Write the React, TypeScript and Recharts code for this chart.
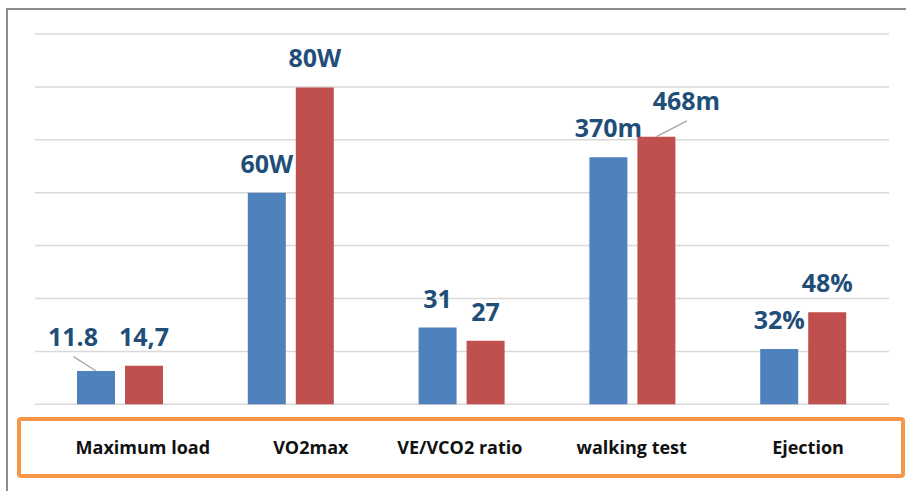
import React from 'react';
import { BarChart, Bar, XAxis, YAxis, CartesianGrid, LabelList } from 'recharts';

const categories = ['Maximum load', 'VO2max', 'VE/VCO2 ratio', 'walking test', 'Ejection'];
const beforeValues = [6.3, 40.0, 14.5, 46.7, 10.45];
const afterValues = [7.3, 59.9, 12.0, 50.6, 17.4];
const beforeLabels = ['11.8', '60W', '31', '370m', '32%'];
const afterLabels = ['14,7', '80W', '27', '468m', '48%'];
const yTicks = [0, 10, 20, 30, 40, 50, 60, 70];

const data = categories.map((c, i) => ({
  category: c,
  before: beforeValues[i],
  after: afterValues[i],
  beforeLabel: beforeLabels[i],
  afterLabel: afterLabels[i],
}));

// label callouts displaced from their bars (with leader lines)
const calloutOffsets: Record<string, { dx: number; dy: number }> = {
  '11.8': { dx: -23, dy: -25.3 },
  '468m': { dx: 30, dy: -26.7 },
};
// horizontal shift of category names relative to their band centers
const tickOffsets = [22.4, 19.6, -2.2, -1.1, 4.4];

const FONT = '"Open Sans", "DejaVu Sans", sans-serif';
const LABEL_COLOR = '#1f4e79';

const ValueLabel = (props: any) => {
  const { x, y, width, value } = props;
  const cx = Number(x) + Number(width) / 2;
  const top = Number(y);
  const off = calloutOffsets[String(value)];
  const textProps = {
    textAnchor: 'middle' as const,
    fontFamily: FONT,
    fontWeight: 700,
    fontSize: 25,
    fill: LABEL_COLOR,
  };
  if (off) {
    const lx = cx + off.dx;
    const ly = top + off.dy;
    return (
      <g>
        <line x1={cx} y1={top} x2={lx + 0.5} y2={ly + 11} stroke="#a6a6a6" strokeWidth={1.3} />
        <text x={lx} y={ly} {...textProps}>{value}</text>
      </g>
    );
  }
  return (
    <text x={cx} y={top - 20} {...textProps}>{value}</text>
  );
};

const CategoryTick = (props: any) => {
  const { x, y, payload } = props;
  const idx = payload?.index ?? categories.indexOf(payload?.value);
  const dx = tickOffsets[idx] ?? 0;
  return (
    <text
      x={Number(x) + dx}
      y={Number(y) + 50}
      textAnchor="middle"
      fontFamily={FONT}
      fontWeight={700}
      fontSize={18}
      fill="#111111"
    >
      {payload.value}
    </text>
  );
};

export default function App() {
  return (
    <div
      style={{
        position: 'absolute',
        left: 0,
        top: 0,
        width: 906,
        height: 491,
        background: '#ffffff',
        overflow: 'hidden',
        fontFamily: FONT,
      }}
    >
      <div
        style={{
          position: 'absolute',
          left: 6,
          top: 8,
          width: 920,
          height: 500,
          borderLeft: '2px solid #8c8c8c',
          borderTop: '2px solid #8c8c8c',
          boxSizing: 'border-box',
        }}
      />
      <div style={{ position: 'absolute', left: 0, top: 0 }}>
        <BarChart
          width={906}
          height={491}
          data={data}
          margin={{ top: 34, right: 17, left: 35, bottom: 26.7 }}
          barSize={38}
          barGap={10}
        >
          <CartesianGrid horizontal vertical={false} stroke="#d9d9d9" strokeWidth={1.5} />
          <YAxis hide domain={[0, 70]} ticks={yTicks} type="number" />
          <XAxis
            dataKey="category"
            axisLine={false}
            tickLine={false}
            tickSize={0}
            tickMargin={0}
            height={60}
            interval={0}
            tick={<CategoryTick />}
          />
          <Bar dataKey="before" fill="#4f81bd" isAnimationActive={false}>
            <LabelList dataKey="beforeLabel" content={<ValueLabel />} />
          </Bar>
          <Bar dataKey="after" fill="#c0504d" isAnimationActive={false}>
            <LabelList dataKey="afterLabel" content={<ValueLabel />} />
          </Bar>
        </BarChart>
      </div>
      <div
        style={{
          position: 'absolute',
          left: 16.7,
          top: 416.7,
          width: 888,
          height: 61.3,
          border: '4px solid #f79646',
          borderRadius: 4,
          boxSizing: 'border-box',
        }}
      />
    </div>
  );
}
